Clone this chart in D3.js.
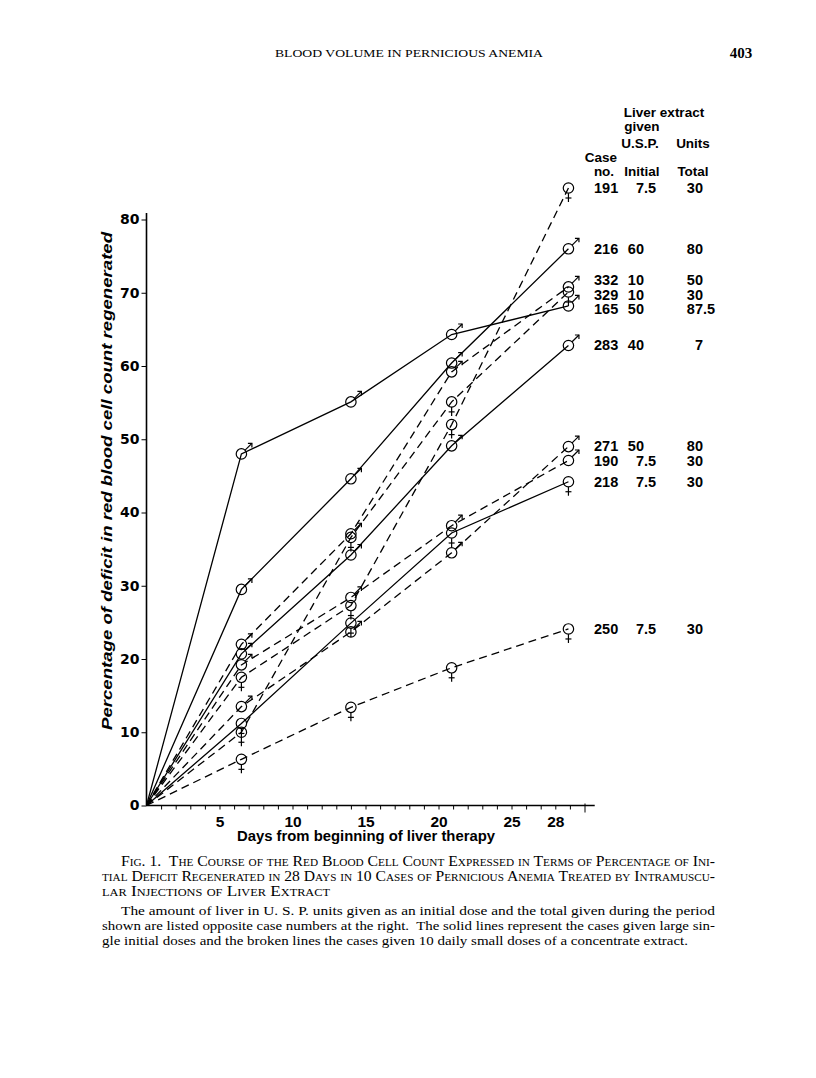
<!DOCTYPE html>
<html>
<head>
<meta charset="utf-8">
<script src="https://cdn.jsdelivr.net/npm/d3@7"></script>
<style>
  body { margin: 0; background: #fff; }
</style>
</head>
<body>
<script>
// days after start at which the counts were made
const days = [6.5, 14, 20.9, 28.9];

// cases, in the order of the table at the right
const caseNos = ['191', '216', '332', '329', '165', '283', '271', '190', '218', '250'];
const initialUnits = ['7.5', '60', '10', '10', '50', '40', '50', '7.5', '7.5', '7.5'];
const totalUnits = ['30', '80', '50', '30', '87.5', '7', '80', '30', '30', '30'];
// single = large single initial dose (solid), daily = 10 daily small doses (broken)
const treatment = ['daily', 'single', 'daily', 'daily', 'single', 'single', 'daily', 'daily', 'single', 'daily'];
const sex = ['F', 'M', 'M', 'F', 'M', 'M', 'M', 'M', 'F', 'F'];

// percentage of initial deficit regenerated, one row per case
const case191 = [17.5, 27.3, 52.0, 84.3];
const case216 = [29.5, 44.6, 60.4, 76.0];
const case332 = [22.0, 37.1, 59.2, 70.8];
const case329 = [10.0, 36.6, 55.1, 70.1];
const case165 = [48.0, 55.1, 64.3, 68.2];
const case283 = [20.7, 34.2, 49.1, 62.8];
const case271 = [13.5, 23.7, 34.5, 49.0];
const case190 = [19.2, 28.4, 38.2, 47.1];
const case218 = [11.2, 24.9, 37.2, 44.2];
const case250 = [6.3, 13.4, 18.8, 24.1];
const regenerated = [case191, case216, case332, case329, case165, case283, case271, case190, case218, case250];

const yTicks = [0, 10, 20, 30, 40, 50, 60, 70, 80];
const xTickDays = d3.range(1, 31);
const xLabelDays = [5, 10, 15, 20, 25, 28];

const sans = "'Liberation Sans', Arial, sans-serif";
const wide = "'DejaVu Sans', Verdana, sans-serif";
const serif = "'Liberation Serif', 'Times New Roman', serif";

const svg = d3.select('body').append('svg')
  .attr('width', 816)
  .attr('height', 1078);

// scales
const x = d3.scaleLinear().domain([0, 30]).range([146.5, 584.5]);
const y = d3.scaleLinear().domain([0, 80]).range([805.5, 219.5]);

// page header
svg.append('text')
  .attr('x', 275).attr('y', 57)
  .attr('textLength', 268).attr('lengthAdjust', 'spacingAndGlyphs')
  .style('font-family', serif).style('font-size', '10.5px')
  .text('BLOOD VOLUME IN PERNICIOUS ANEMIA');
svg.append('text')
  .attr('x', 741).attr('y', 58).attr('text-anchor', 'middle')
  .style('font-family', serif).style('font-size', '15px').style('font-weight', 'bold')
  .text('403');

// axes
const yAxis = d3.axisLeft(y).tickValues(yTicks).tickSize(5).tickSizeOuter(0).tickPadding(2);
const gy = svg.append('g').attr('transform', 'translate(' + x(0) + ',0)').call(yAxis);
gy.select('.domain').remove();
gy.selectAll('text').style('font-family', wide).style('font-size', '14px').style('font-weight', 'bold');
svg.append('line')
  .attr('x1', x(0)).attr('x2', x(0))
  .attr('y1', y(0)).attr('y2', y(80.9))
  .attr('stroke', '#000').attr('stroke-width', 1.6);

const xAxis = d3.axisBottom(x).tickValues(xTickDays).tickSize(4).tickSizeOuter(0).tickPadding(6)
  .tickFormat((d) => xLabelDays.includes(d) ? d : '');
const gx = svg.append('g').attr('transform', 'translate(0,' + y(0) + ')').call(xAxis);
gx.select('.domain').remove();
gx.selectAll('.tick line').filter((d) => d === 30).attr('y1', -2).attr('y2', 7);
gx.selectAll('text').style('font-family', sans).style('font-size', '15.5px').style('font-weight', 'bold');
svg.append('line')
  .attr('x1', x(0)).attr('x2', x(30.7))
  .attr('y1', y(0)).attr('y2', y(0))
  .attr('stroke', '#000').attr('stroke-width', 1.6);

// axis titles
svg.append('text')
  .attr('x', 366).attr('y', 841).attr('text-anchor', 'middle')
  .attr('textLength', 258).attr('lengthAdjust', 'spacingAndGlyphs')
  .style('font-family', sans).style('font-size', '14.5px').style('font-weight', 'bold')
  .text('Days from beginning of liver therapy');
svg.append('text')
  .attr('transform', 'translate(112,481)rotate(-90)')
  .attr('text-anchor', 'middle')
  .attr('textLength', 498).attr('lengthAdjust', 'spacingAndGlyphs')
  .style('font-family', sans).style('font-size', '14.5px').style('font-weight', 'bold').style('font-style', 'italic')
  .text('Percentage of deficit in red blood cell count regenerated');

// lines, all starting at the origin
const line = d3.line().x((d) => x(d[0])).y((d) => y(d[1]));
regenerated.forEach((vals, i) => {
  const pts = [[0, 0]].concat(days.map((d, j) => [d, vals[j]]));
  svg.append('path')
    .datum(pts)
    .attr('fill', 'none')
    .attr('stroke', '#000')
    .attr('stroke-width', 1.3)
    .attr('stroke-dasharray', treatment[i] === 'daily' ? '8,5' : null)
    .attr('d', line);
});

// point markers with sex symbols
regenerated.forEach((vals, i) => {
  days.forEach((d, j) => {
    const cx = x(d), cy = y(vals[j]);
    const g = svg.append('g').attr('stroke', '#000').attr('fill', 'none').attr('stroke-width', 1.2);
    g.append('circle').attr('cx', cx).attr('cy', cy).attr('r', 5.2);
    if (sex[i] === 'M') {
      g.append('line').attr('x1', cx + 3.7).attr('y1', cy - 3.7).attr('x2', cx + 10.5).attr('y2', cy - 10.5);
      g.append('path').attr('d', 'M' + (cx + 6.5) + ',' + (cy - 10.5) + 'L' + (cx + 10.5) + ',' + (cy - 10.5) + 'L' + (cx + 10.5) + ',' + (cy - 6.5));
    } else {
      g.append('line').attr('x1', cx).attr('y1', cy + 5.2).attr('x2', cx).attr('y2', cy + 14);
      g.append('line').attr('x1', cx - 3).attr('y1', cy + 10).attr('x2', cx + 3).attr('y2', cy + 10);
    }
  });
});

// table heading
const headStyle = (sel) => sel.style('font-family', sans).style('font-size', '13.5px').style('font-weight', 'bold').attr('text-anchor', 'middle');
[['Liver extract', 664, 117], ['given', 642, 131], ['U.S.P.', 640, 148], ['Units', 693, 148],
 ['Case', 601, 162], ['no.', 604, 176], ['Initial', 642, 176], ['Total', 693, 176]]
  .forEach((h) => {
    svg.append('text').attr('x', h[1]).attr('y', h[2]).text(h[0]).call(headStyle);
  });

// table rows, placed beside the end of each line and spread apart where crowded
const rowY = regenerated.map((vals) => y(vals[vals.length - 1]));
const order = d3.range(rowY.length).sort((a, b) => rowY[a] - rowY[b]);
for (let k = 0; k < 30; k++) {
  for (let m = 1; m < order.length; m++) {
    const a = order[m - 1], b = order[m];
    const gap = rowY[b] - rowY[a];
    if (gap < 14.5) {
      const push = (14.5 - gap) / 2;
      rowY[a] -= push;
      rowY[b] += push;
    }
  }
}
const cellStyle = (sel) => sel.style('font-family', sans).style('font-size', '14.5px').style('font-weight', 'bold');
function decimalCell(value, alignX, cy) {
  const parts = value.split('.');
  svg.append('text').attr('x', alignX).attr('y', cy).attr('text-anchor', 'end').text(parts[0]).call(cellStyle);
  if (parts.length > 1) {
    svg.append('text').attr('x', alignX).attr('y', cy).attr('text-anchor', 'start').text('.' + parts[1]).call(cellStyle);
  }
}
caseNos.forEach((c, i) => {
  const cy = rowY[i] + 5;
  svg.append('text').attr('x', 594).attr('y', cy).text(c).call(cellStyle);
  decimalCell(initialUnits[i], 644, cy);
  decimalCell(totalUnits[i], 703, cy);
});

// caption
const capLines = [
  { t: 'Fig. 1.  The Course of the Red Blood Cell Count Expressed in Terms of Percentage of Ini-', x: 121, y: 866, w: 594, sc: true },
  { t: 'tial Deficit Regenerated in 28 Days in 10 Cases of Pernicious Anemia Treated by Intramuscu-', x: 102, y: 881, w: 613, sc: true },
  { t: 'lar Injections of Liver Extract', x: 102, y: 896, w: 228, sc: true },
  { t: 'The amount of liver in U. S. P. units given as an initial dose and the total given during the period', x: 121, y: 915, w: 594, sc: false },
  { t: 'shown are listed opposite case numbers at the right.  The solid lines represent the cases given large sin-', x: 102, y: 930, w: 613, sc: false },
  { t: 'gle initial doses and the broken lines the cases given 10 daily small doses of a concentrate extract.', x: 102, y: 945, w: 586, sc: false }
];
capLines.forEach((l) => {
  svg.append('text')
    .attr('x', l.x).attr('y', l.y)
    .attr('textLength', l.w).attr('lengthAdjust', 'spacingAndGlyphs')
    .style('font-family', serif).style('font-size', l.sc ? '14px' : '13.5px')
    .style('font-variant', l.sc ? 'small-caps' : 'normal')
    .style('white-space', 'pre')
    .text(l.t);
});
</script>
</body>
</html>
